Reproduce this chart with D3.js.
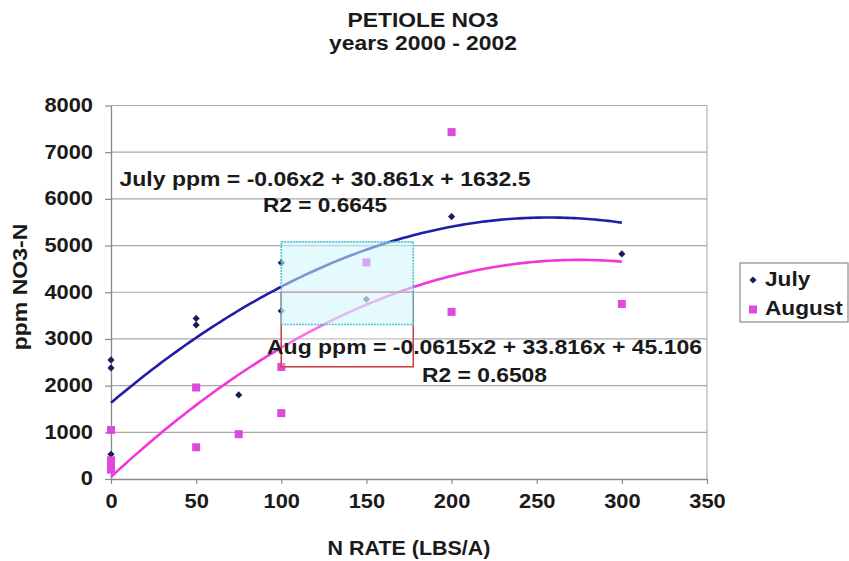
<!DOCTYPE html>
<html><head><meta charset="utf-8">
<script src="https://cdn.jsdelivr.net/npm/d3@7"></script>
<style>
body{margin:0;background:#fff;}
svg{display:block;}
text{font-family:"Liberation Sans",Arial,sans-serif;font-weight:bold;fill:#1a1a1a;}
</style></head>
<body>
<svg id="c" width="849" height="561"></svg>
<script>
// ---- data ----
const titleLines = ["PETIOLE NO3", "years 2000 - 2002"];
const xTicks = [0, 50, 100, 150, 200, 250, 300, 350];
const yTicks = [0, 1000, 2000, 3000, 4000, 5000, 6000, 7000, 8000];
const seriesNames = ["July", "August"];
const julyX = [0, 0, 0, 50, 50, 75, 100, 100, 150, 200, 300];
const julyY = [2550, 2380, 530, 3440, 3300, 1800, 4630, 3600, 3850, 5620, 4820];
const augX = [0, 0, 0, 0, 50, 50, 75, 100, 100, 150, 200, 200, 300];
const augY = [1050, 400, 300, 200, 1960, 680, 960, 2400, 1410, 4640, 7430, 3580, 3750];
// trendline coefficients [a, b, c] for a*x^2 + b*x + c
const julyCoef = [-0.06, 30.861, 1632.5];
const augCoef = [-0.0615, 33.816, 45.106];
const trendRange = [0, 300];
const julyEq = ["July ppm = -0.06x2 + 30.861x + 1632.5", "R2 = 0.6645"];
const augEq = ["Aug ppm = -0.0615x2 + 33.816x + 45.106", "R2 = 0.6508"];
// highlight boxes in data units [x0, x1, y0, y1]
const cyanBox = [100, 177.5, 3310, 5080];
const redBox = [100, 177.5, 2405, 4000];

const svg = d3.select("#c");
const x = d3.scaleLinear().domain([0, 350]).range([111, 707]);
const y = d3.scaleLinear().domain([0, 8000]).range([479, 105.5]);

function stretch(sel, k) {
  sel.each(function () {
    const L = this.getComputedTextLength();
    d3.select(this).attr("textLength", L * k).attr("lengthAdjust", "spacingAndGlyphs");
  });
}

// title
svg.selectAll("text.title").data(titleLines).join("text")
  .attr("class", "title").attr("x", 423).attr("y", (d, i) => i ? 49.5 : 26.7)
  .attr("text-anchor", "middle").style("font-size", "19.5px").text(d => d)
  .call(stretch, 1.17);

// gridlines
svg.append("g").selectAll("line").data(yTicks.filter(v => v > 0)).join("line")
  .attr("x1", x(0)).attr("x2", x(350)).attr("y1", d => y(d)).attr("y2", d => y(d))
  .attr("stroke", "#a8a8a8").attr("stroke-width", 1.2);
// right border
svg.append("line").attr("x1", x(350)).attr("x2", x(350)).attr("y1", y(8000)).attr("y2", y(0))
  .attr("stroke", "#b0b0b0").attr("stroke-width", 1.2);

// axes
const gx = svg.append("g").attr("transform", `translate(0,${y(0)})`)
  .call(d3.axisBottom(x).tickValues(xTicks).tickFormat(d3.format("d")).tickSize(5).tickPadding(10).tickSizeOuter(0));
const gy = svg.append("g").attr("transform", `translate(${x(0)},0)`)
  .call(d3.axisLeft(y).tickValues(yTicks).tickFormat(d3.format("d")).tickSize(6).tickPadding(12).tickSizeOuter(0));
[gx, gy].forEach(g => {
  g.select(".domain").attr("stroke", "#8a8a8a").attr("stroke-width", 1.3);
  g.selectAll(".tick line").attr("stroke", "#8a8a8a").attr("stroke-width", 1.2);
  g.selectAll("text").attr("fill", "#1a1a1a")
    .style("font-family", '"Liberation Sans",Arial,sans-serif').style("font-weight", "bold").style("font-size", "19.5px");
});
gx.selectAll("text").attr("dy", "0.71em").call(stretch, 1.12);
gy.selectAll("text").attr("dy", "0.3em").call(stretch, 1.12);

// axis titles
svg.append("text").attr("x", 409).attr("y", 555).attr("text-anchor", "middle")
  .style("font-size", "19.5px").text("N RATE (LBS/A)").call(stretch, 1.1);
svg.append("text").attr("transform", "translate(27,287) rotate(-90)").attr("text-anchor", "middle")
  .style("font-size", "19.5px").text("ppm NO3-N").call(stretch, 1.18);

// red box (behind)
svg.append("rect").attr("x", x(redBox[0])).attr("y", y(redBox[3]))
  .attr("width", x(redBox[1]) - x(redBox[0])).attr("height", y(redBox[2]) - y(redBox[3]))
  .attr("fill", "none").attr("stroke", "#cc3b3b").attr("stroke-width", 1.2);

// trendlines
function curve(c) {
  const xs = d3.range(trendRange[0], trendRange[1] + 0.001, 2);
  return xs.map(v => [v, c[0] * v * v + c[1] * v + c[2]]);
}
const line = d3.line().x(d => x(d[0])).y(d => y(d[1])).curve(d3.curveLinear);
svg.append("path").attr("d", line(curve(julyCoef))).attr("fill", "none")
  .attr("stroke", "#1e1ea6").attr("stroke-width", 2.6);
svg.append("path").attr("d", line(curve(augCoef))).attr("fill", "none")
  .attr("stroke", "#f236dc").attr("stroke-width", 2.6);

// markers
const diamond = d3.symbol().type(d3.symbolSquare).size(26);
svg.append("g").selectAll("path").data(julyX.map((v, i) => [v, julyY[i]])).join("path")
  .attr("d", diamond).attr("transform", d => `translate(${x(d[0])},${y(d[1])}) rotate(45)`)
  .attr("fill", "#1b1b5e");
svg.append("g").selectAll("rect").data(augX.map((v, i) => [v, augY[i]])).join("rect")
  .attr("x", d => x(d[0]) - 4).attr("y", d => y(d[1]) - 4).attr("width", 8).attr("height", 8)
  .attr("fill", "#dd48dd");

// red box faint overlay
svg.append("rect").attr("x", x(redBox[0])).attr("y", y(redBox[3]))
  .attr("width", x(redBox[1]) - x(redBox[0])).attr("height", y(redBox[2]) - y(redBox[3]))
  .attr("fill", "rgba(255,255,255,0.3)").attr("stroke", "#cc3b3b").attr("stroke-width", 1.2);
// cyan box overlay
svg.append("rect").attr("x", x(cyanBox[0])).attr("y", y(cyanBox[3]))
  .attr("width", x(cyanBox[1]) - x(cyanBox[0])).attr("height", y(cyanBox[2]) - y(cyanBox[3]))
  .attr("fill", "rgba(205,245,250,0.55)").attr("stroke", "#4cc4d4").attr("stroke-width", 1.6)
  .attr("stroke-dasharray", "2,1");

// equations
svg.append("text").attr("x", 325).attr("y", 186).attr("text-anchor", "middle")
  .style("font-size", "19.5px").text(julyEq[0]).attr("textLength", 411).attr("lengthAdjust", "spacingAndGlyphs");
svg.append("text").attr("x", 325).attr("y", 211.7).attr("text-anchor", "middle")
  .style("font-size", "19.5px").text(julyEq[1]).attr("textLength", 124).attr("lengthAdjust", "spacingAndGlyphs");
svg.append("text").attr("x", 484.5).attr("y", 353.5).attr("text-anchor", "middle")
  .style("font-size", "19.5px").text(augEq[0]).attr("textLength", 435).attr("lengthAdjust", "spacingAndGlyphs");
svg.append("text").attr("x", 484.5).attr("y", 381.5).attr("text-anchor", "middle")
  .style("font-size", "19.5px").text(augEq[1]).attr("textLength", 125).attr("lengthAdjust", "spacingAndGlyphs");

// legend
const lg = svg.append("g");
lg.append("rect").attr("x", 740).attr("y", 263).attr("width", 108).attr("height", 59)
  .attr("fill", "#fff").attr("stroke", "#8a8a8a").attr("stroke-width", 1.2);
lg.append("path").attr("d", diamond).attr("transform", "translate(753,280) rotate(45)").attr("fill", "#1b1b5e");
lg.append("rect").attr("x", 749).attr("y", 305.5).attr("width", 8).attr("height", 8).attr("fill", "#dd48dd");
lg.selectAll("text").data(seriesNames).join("text")
  .attr("x", 765).attr("y", (d, i) => i ? 315 : 285.5)
  .style("font-size", "19.5px").text(d => d).call(stretch, 1.16);
</script>
</body></html>
